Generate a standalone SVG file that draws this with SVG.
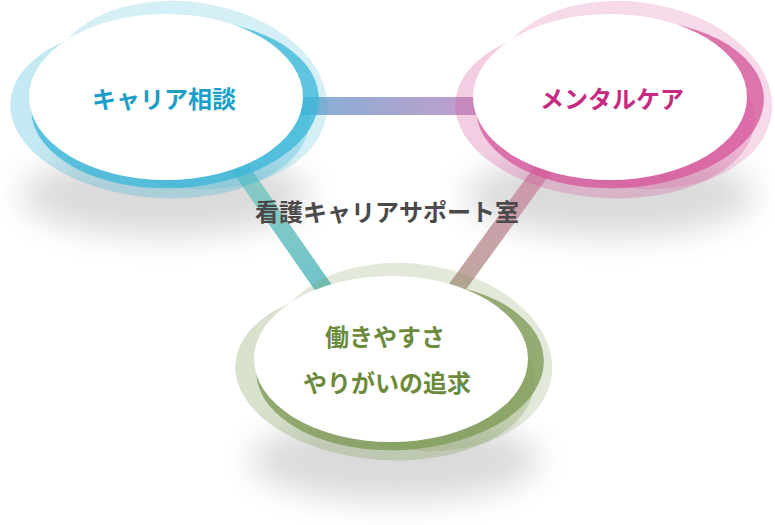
<svg xmlns="http://www.w3.org/2000/svg" width="775" height="525" viewBox="0 0 775 525">
<defs>
<filter id="sh" x="-50%" y="-50%" width="200%" height="200%"><feGaussianBlur stdDeviation="16"/></filter>
<linearGradient id="gH" x1="0" y1="0" x2="1" y2="0"><stop offset="0" stop-color="#7fb2d6"/><stop offset="1" stop-color="#c79ccb"/></linearGradient>
<linearGradient id="gL" x1="0" y1="0" x2="0" y2="1"><stop offset="0" stop-color="#8fcdbf"/><stop offset="1" stop-color="#5dbcc6"/></linearGradient>
<linearGradient id="gR" x1="0" y1="0" x2="0" y2="1"><stop offset="0" stop-color="#d68cb0"/><stop offset="1" stop-color="#b7a096"/></linearGradient>
<linearGradient id="fade" x1="0" y1="0" x2="1" y2="0"><stop offset="0" stop-color="#fff" stop-opacity="0.45"/><stop offset="0.45" stop-color="#fff" stop-opacity="0.9"/><stop offset="1" stop-color="#fff" stop-opacity="1"/></linearGradient>
</defs>
<style>
.shadow{fill:#000;opacity:0.14;filter:url(#sh)}
.core{fill:#fff}
.t{font-family:"Noto Sans CJK JP","Noto Sans",sans-serif;font-weight:bold;font-size:24px;text-anchor:middle;dominant-baseline:central}
.blue{fill:#3cb7d8}
.pink{fill:#d6589c}
.green{fill:#7e9a56}
</style>
<g id="shadows">
<ellipse class="shadow" cx="165" cy="195" rx="145" ry="42"/>
<ellipse class="shadow" cx="610" cy="195" rx="145" ry="42"/>
<ellipse class="shadow" cx="395" cy="460" rx="145" ry="42"/>
</g>
<g id="connectors">
<rect x="290" y="97" width="195" height="18" fill="url(#gH)"/>
<line x1="215" y1="132" x2="330" y2="297" stroke="url(#gL)" stroke-width="17" opacity="0.9"/>
<line x1="570" y1="132" x2="450" y2="297" stroke="url(#gR)" stroke-width="17" opacity="0.9"/>
</g>
<g id="node-career">
<ellipse class="blue" cx="160" cy="112" rx="150" ry="86" opacity="0.3" transform="rotate(4 160 112)"/>
<ellipse class="blue" cx="188" cy="95" rx="140" ry="93" opacity="0.22" transform="rotate(8 188 95)"/>
<ellipse class="blue" cx="175" cy="104" rx="144" ry="84" opacity="0.78" transform="rotate(-3 175 104)"/>
<ellipse class="core" cx="166" cy="97" rx="137" ry="83"/>
<text class="t" x="164" y="97" fill="#1c9ec8">キャリア相談</text>
</g>
<g id="node-mental">
<ellipse class="pink" cx="605" cy="112" rx="150" ry="86" opacity="0.3" transform="rotate(4 605 112)"/>
<ellipse class="pink" cx="633" cy="95" rx="140" ry="93" opacity="0.22" transform="rotate(8 633 95)"/>
<ellipse class="pink" cx="620" cy="104" rx="144" ry="84" opacity="0.78" transform="rotate(-3 620 104)"/>
<ellipse class="core" cx="610" cy="97" rx="137" ry="83"/>
<text class="t" x="612" y="97" fill="#c72a80">メンタルケア</text>
</g>
<g id="node-work">
<ellipse class="green" cx="385" cy="374" rx="150" ry="86" opacity="0.3" transform="rotate(4 385 374)"/>
<ellipse class="green" cx="413" cy="357" rx="140" ry="93" opacity="0.22" transform="rotate(8 413 357)"/>
<ellipse class="green" cx="400" cy="366" rx="144" ry="84" opacity="0.78" transform="rotate(-3 400 366)"/>
<ellipse class="core" cx="391" cy="359" rx="137" ry="83"/>
<text class="t" x="385" y="335" fill="#6b8a3c">働きやすさ</text>
<text class="t" x="387" y="381" fill="#6b8a3c">やりがいの追求</text>
</g>
<g id="title">
<text class="t" x="387" y="210" fill="#4a4a4a">看護キャリアサポート室</text>
</g>
</svg>
